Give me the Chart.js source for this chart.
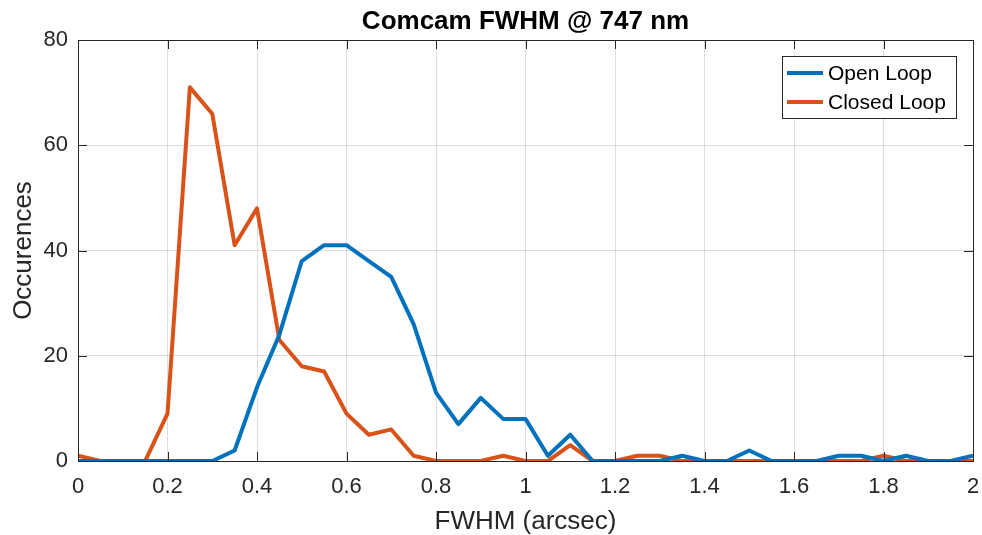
<!DOCTYPE html>
<html>
<head>
<meta charset="utf-8">
<script src="https://cdn.jsdelivr.net/npm/chart.js@4.4.0/dist/chart.umd.min.js"></script>
<style>
  html, body { margin: 0; padding: 0; background: #fff; }
  #wrap { width: 982px; height: 535px; }
</style>
</head>
<body>
<div id="wrap"><canvas id="fwhm"></canvas></div>
<script>
// FWHM bins (arcsec)
var FWHM = [0, 0.05, 0.1, 0.15, 0.2, 0.25, 0.3, 0.35, 0.4, 0.45, 0.5, 0.55, 0.6, 0.65, 0.7, 0.75, 0.8, 0.85, 0.9, 0.95,
            1.0, 1.05, 1.1, 1.15, 1.2, 1.25, 1.3, 1.35, 1.4, 1.45, 1.5, 1.55, 1.6, 1.65, 1.7, 1.75, 1.8, 1.85, 1.9, 1.95, 2.0];
var OpenLoop = [0, 0, 0, 0, 0, 0, 0, 2, 14, 24, 38, 41, 41, 38, 35, 26, 13, 7, 12, 8,
                8, 1, 5, 0, 0, 0, 0, 1, 0, 0, 2, 0, 0, 0, 1, 1, 0, 1, 0, 0, 1];
var ClosedLoop = [1, 0, 0, 0, 9, 71, 66, 41, 48, 23, 18, 17, 9, 5, 6, 1, 0, 0, 0, 1,
                  0, 0, 3, 0, 0, 1, 1, 0, 0, 0, 0, 0, 0, 0, 0, 0, 1, 0, 0, 0, 0];
var SeriesNames = ["Open Loop", "Closed Loop"];
var SeriesColors = ["#0072BD", "#D95319"];
var XTicks = [0, 0.2, 0.4, 0.6, 0.8, 1, 1.2, 1.4, 1.6, 1.8, 2];
var YTicks = [0, 20, 40, 60, 80];

var FONT = "'Liberation Sans', Arial, sans-serif";
var TEXT = "#262626";

function ToPoints(xs, ys) {
	return xs.map(function(x, i) { return { x: x, y: ys[i] }; });
}

// box, inner tick marks, title, axis labels and legend in the MATLAB look
var MatlabFrame = {
	id: "matlabFrame",
	afterDatasetsDraw: function(chart) {
		var ctx = chart.ctx;
		var a = chart.chartArea;
		var xs = chart.scales.x, ys = chart.scales.y;
		ctx.save();
		ctx.strokeStyle = TEXT;
		ctx.lineWidth = 1;
		ctx.strokeRect(Math.round(a.left) + 0.5, Math.round(a.top) + 0.5,
			Math.round(a.right - a.left), Math.round(a.bottom - a.top));
		ctx.beginPath();
		XTicks.forEach(function(t) {
			var px = Math.round(xs.getPixelForValue(t)) + 0.5;
			ctx.moveTo(px, a.bottom); ctx.lineTo(px, a.bottom - 9);
			ctx.moveTo(px, a.top); ctx.lineTo(px, a.top + 9);
		});
		YTicks.forEach(function(t) {
			var py = Math.round(ys.getPixelForValue(t)) + 0.5;
			ctx.moveTo(a.left, py); ctx.lineTo(a.left + 9, py);
			ctx.moveTo(a.right, py); ctx.lineTo(a.right - 9, py);
		});
		ctx.stroke();

		// title
		ctx.fillStyle = "#000";
		ctx.font = "bold 26px " + FONT;
		ctx.textAlign = "center";
		ctx.textBaseline = "alphabetic";
		ctx.fillText("Comcam FWHM @ 747 nm", (a.left + a.right) / 2, 29);

		// axis labels
		ctx.fillStyle = TEXT;
		ctx.font = "26px " + FONT;
		ctx.fillText("FWHM (arcsec)", (a.left + a.right) / 2, 529);
		ctx.save();
		ctx.translate(31, (a.top + a.bottom) / 2);
		ctx.rotate(-Math.PI / 2);
		ctx.fillText("Occurences", 0, 0);
		ctx.restore();

		// legend
		var lx = 782, ly = 56, lw = 174, lh = 62;
		ctx.fillStyle = "#fff";
		ctx.fillRect(lx, ly, lw, lh);
		ctx.strokeStyle = TEXT;
		ctx.strokeRect(lx + 0.5, ly + 0.5, lw, lh);
		ctx.font = "21px " + FONT;
		ctx.textAlign = "left";
		ctx.textBaseline = "middle";
		SeriesNames.forEach(function(name, i) {
			var yy = ly + 17 + i * 29;
			ctx.strokeStyle = SeriesColors[i];
			ctx.lineWidth = 4;
			ctx.beginPath();
			ctx.moveTo(lx + 5, yy); ctx.lineTo(lx + 41, yy);
			ctx.stroke();
			ctx.fillStyle = "#000";
			ctx.fillText(name, lx + 46, yy + 1);
		});
		ctx.restore();
	}
};

new Chart(document.getElementById("fwhm"), {
	type: "line",
	data: {
		datasets: [
			{
				label: SeriesNames[0],
				data: ToPoints(FWHM, OpenLoop),
				borderColor: SeriesColors[0],
				borderWidth: 4,
				pointRadius: 0,
				tension: 0,
				borderJoinStyle: "round"
			},
			{
				label: SeriesNames[1],
				data: ToPoints(FWHM, ClosedLoop),
				borderColor: SeriesColors[1],
				borderWidth: 4,
				pointRadius: 0,
				tension: 0,
				borderJoinStyle: "round"
			}
		]
	},
	options: {
		responsive: true,
		maintainAspectRatio: false,
		animation: false,
		devicePixelRatio: 1,
		layout: { padding: { top: 40, right: 9, left: 0, bottom: 0 } },
		plugins: {
			legend: { display: false },
			title: { display: false },
			tooltip: { enabled: false }
		},
		scales: {
			x: {
				type: "linear",
				min: 0,
				max: 2,
				afterFit: function(scale) {
					scale.height = 74;
					scale.paddingLeft = 0;
					scale.paddingRight = 0;
				},
				afterBuildTicks: function(scale) {
					scale.ticks = XTicks.map(function(v) { return { value: v }; });
				},
				grid: { color: "rgba(0,0,0,0.13)", drawTicks: false },
				border: { display: false },
				ticks: {
					padding: 13,
					color: TEXT,
					font: { family: FONT, size: 22 },
					maxRotation: 0,
					callback: function(v) { return String(Math.round(v * 10) / 10); }
				}
			},
			y: {
				min: 0,
				max: 80,
				afterFit: function(scale) {
					scale.width = 78;
					scale.paddingTop = 0;
					scale.paddingBottom = 0;
				},
				afterBuildTicks: function(scale) {
					scale.ticks = YTicks.map(function(v) { return { value: v }; });
				},
				grid: { color: "rgba(0,0,0,0.13)", drawTicks: false },
				border: { display: false },
				ticks: {
					padding: 10,
					color: TEXT,
					font: { family: FONT, size: 22 }
				}
			}
		}
	},
	plugins: [MatlabFrame]
});
</script>
</body>
</html>
